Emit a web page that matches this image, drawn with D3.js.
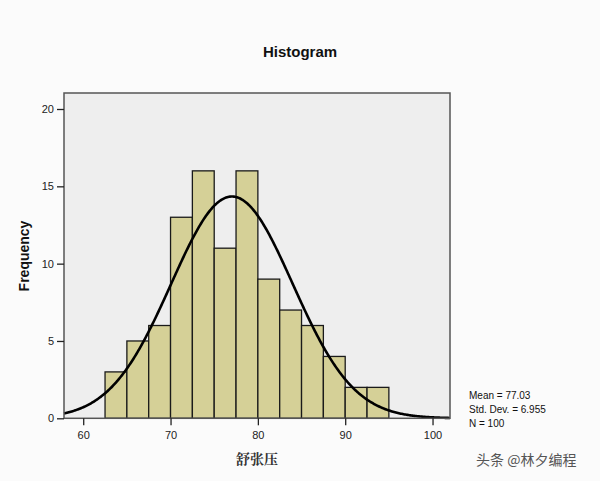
<!DOCTYPE html>
<html><head><meta charset="utf-8">
<script src="https://cdn.jsdelivr.net/npm/d3@7"></script>
<style>body{margin:0;background:#fbfbfb;}svg{display:block;}</style>
</head><body>
<svg id="c" width="600" height="481"></svg>
<script>
const binStarts = [62.5,65,67.5,70,72.5,75,77.5,80,82.5,85,87.5,90,92.5];
const counts = [3,5,6,13,16,11,16,9,7,6,4,2,2];
const binWidth = 2.5;
const xTicks = [60,70,80,90,100];
const yTicks = [0,5,10,15,20];
const stats = ["Mean = 77.03","Std. Dev. = 6.955","N = 100"];
const mean = 77.03, sd = 6.955, n = 100;

const svg = d3.select("#c");
const L=64, R=450, T=93, B=418.3;
const x = d3.scaleLinear().domain([57.8,102.0]).range([L,R]);
const y = d3.scaleLinear().domain([0,20]).range([B,109]);

svg.append("rect").attr("x",L).attr("y",T).attr("width",R-L).attr("height",B-T)
  .attr("fill","#eeeeee");

svg.append("g").selectAll("rect").data(counts).join("rect")
  .attr("x",(d,i)=>x(binStarts[i])).attr("width",(d,i)=>x(binStarts[i]+binWidth)-x(binStarts[i]))
  .attr("y",d=>y(d)).attr("height",d=>y(0)-y(d))
  .attr("fill","#d5d097").attr("stroke","#1a1a1a").attr("stroke-width",1.3);

const pdf = v => n*binWidth*Math.exp(-0.5*((v-mean)/sd)**2)/(sd*Math.sqrt(2*Math.PI));
const pts = d3.range(0,401).map(i=>57.8+(102-57.8)*i/400);
svg.append("path").datum(pts)
  .attr("d",d3.line().x(v=>x(v)).y(v=>y(pdf(v))).curve(d3.curveLinear))
  .attr("fill","none").attr("stroke","#000").attr("stroke-width",2.6);

svg.append("rect").attr("x",L).attr("y",T).attr("width",R-L).attr("height",B-T)
  .attr("fill","none").attr("stroke","#555").attr("stroke-width",1.5);

const gx = svg.append("g").attr("transform",`translate(0,${B})`)
  .call(d3.axisBottom(x).tickValues(xTicks).tickSize(7).tickFormat(d3.format("d")));
gx.select(".domain").remove();
gx.selectAll("line").attr("stroke","#222").attr("stroke-width",1.3);
gx.selectAll("text").attr("font-family","Arial, Liberation Sans, sans-serif").attr("font-size",11).attr("fill","#222").attr("dy","1.0em");

const gy = svg.append("g").attr("transform",`translate(${L},0)`)
  .call(d3.axisLeft(y).tickValues(yTicks).tickSize(7).tickFormat(d3.format("d")));
gy.select(".domain").remove();
gy.selectAll("line").attr("stroke","#222").attr("stroke-width",1.3);
gy.selectAll("text").attr("font-family","Arial, Liberation Sans, sans-serif").attr("font-size",11).attr("fill","#222");

svg.append("text").attr("x",300).attr("y",57).attr("text-anchor","middle")
  .attr("font-family","Arial, Liberation Sans, sans-serif").attr("font-size",15).attr("font-weight","bold").attr("fill","#111")
  .text("Histogram");

svg.append("text").attr("transform","translate(29,256) rotate(-90)").attr("text-anchor","middle")
  .attr("font-family","Arial, Liberation Sans, sans-serif").attr("font-size",14).attr("font-weight","bold").attr("fill","#111")
  .text("Frequency");

svg.append("text").attr("x",257).attr("y",464).attr("text-anchor","middle")
  .attr("font-family","Noto Serif CJK SC, Noto Sans CJK SC, serif").attr("font-size",14).attr("font-weight","bold").attr("fill","#333")
  .text("舒张压");

svg.append("g").selectAll("text").data(stats).join("text")
  .attr("x",469).attr("y",(d,i)=>399+i*14)
  .attr("font-family","Arial, Liberation Sans, sans-serif").attr("font-size",10).attr("fill","#111")
  .text(d=>d);

svg.append("text").attr("x",476).attr("y",465)
  .attr("font-family","Noto Sans CJK SC, sans-serif").attr("font-size",14).attr("fill","#555")
  .text("头条 @林夕编程");
</script>
</body></html>
